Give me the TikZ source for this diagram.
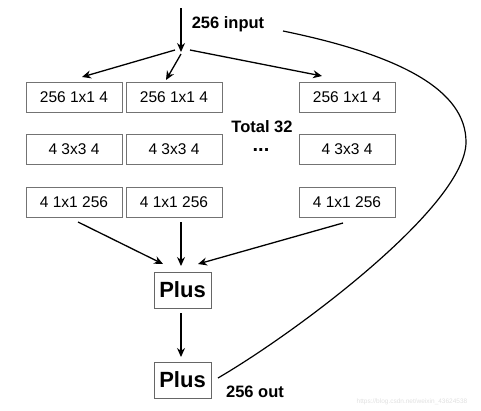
\documentclass[tikz,border=0pt]{standalone}
\usepackage{fontspec}
\setmainfont{Liberation Sans}
\usetikzlibrary{arrows.meta}
\begin{document}
\begin{tikzpicture}[x=1pt,y=-1pt,
  conv/.style={draw=black!55,line width=0.8pt,minimum width=96pt,minimum height=30pt,inner sep=0pt,font=\fontsize{15.5}{18}\selectfont},
  plusbox/.style={draw=black!60,line width=0.9pt,minimum width=57pt,minimum height=36pt,inner sep=0pt,font=\fontsize{22}{26}\selectfont\bfseries},
  lbl/.style={inner sep=0pt,font=\fontsize{16.5}{20}\selectfont\bfseries},
  arr/.style={line width=1.3pt,-{Stealth[length=9pt,width=8pt]}}]
\useasboundingbox (0,0) rectangle (481,410);
% convolution boxes
\node[conv] (a1) at (74,97) {256 1x1 4};
\node[conv] (a2) at (174,97) {256 1x1 4};
\node[conv] (a3) at (347,97) {256 1x1 4};
\node[conv] (b1) at (74,149.5) {4 3x3 4};
\node[conv] (b2) at (174,149.5) {4 3x3 4};
\node[conv] (b3) at (347,149.5) {4 3x3 4};
\node[conv] (c1) at (74,202.5) {4 1x1 256};
\node[conv] (c2) at (174,202.5) {4 1x1 256};
\node[conv] (c3) at (347,202.5) {4 1x1 256};
\node[lbl] (total) at (262,127) {Total 32};
\node[lbl,font=\fontsize{20}{22}\selectfont\bfseries] (dots) at (261,150) {...};
% plus boxes
\node[plusbox] (p1) at (182.5,290) {Plus};
\node[plusbox] (p2) at (182.5,380) {Plus};
\node[lbl] (in) at (228,24) {256 input};
\node[lbl] (out) at (255,392) {256 out};
\node[inner sep=0pt,text=black!12,font=\fontsize{6.5}{8}\selectfont] (wm) at (412,402) {https://blog.csdn.net/weixin\_43624538};
% coordinates
\coordinate (top) at (181,8);
\coordinate (split) at (181,52);
\coordinate (sl) at (175,50);
\coordinate (sm) at (181,54);
\coordinate (sr) at (190,50);
\coordinate (ta1) at (82,77);
\coordinate (ta2) at (166,80);
\coordinate (ta3) at (322,76);
\coordinate (fc1) at (78,222);
\coordinate (fc2) at (181,222);
\coordinate (fc3) at (343,223);
\coordinate (tp1l) at (163,264);
\coordinate (tp1m) at (181,266);
\coordinate (tp1r) at (198,264);
\coordinate (fp1) at (181,313);
\coordinate (tp2) at (181,357);
\draw[arr] (top) -- (split);
\draw[arr] (sl) -- (ta1);
\draw[arr] (sm) -- (ta2);
\draw[arr] (sr) -- (ta3);
\draw[arr] (fc1) -- (tp1l);
\draw[arr] (fc2) -- (tp1m);
\draw[arr] (fc3) -- (tp1r);
\draw[arr] (fp1) -- (tp2);
\coordinate (cs) at (283,31);
\coordinate (ce) at (218,378);
\draw[line width=1.2pt] (cs) .. controls (400,55) and (466,90) .. (466,142)
  .. controls (466,205) and (300,330) .. (ce);
\end{tikzpicture}
\end{document}
